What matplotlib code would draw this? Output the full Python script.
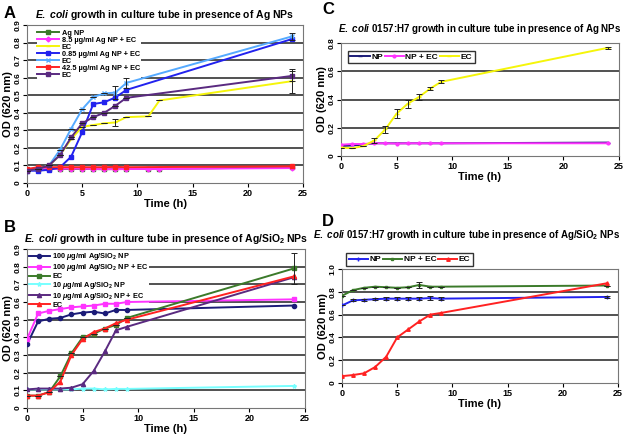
import matplotlib
matplotlib.use("Agg")
import matplotlib.pyplot as plt

plt.rcParams['font.family'] = ['Liberation Sans', 'DejaVu Sans']
plt.rcParams['font.weight'] = 'bold'
plt.rcParams['mathtext.fontset'] = 'custom'
plt.rcParams['mathtext.rm'] = 'Liberation Sans:bold'
plt.rcParams['mathtext.it'] = 'Liberation Sans:italic:bold'
plt.rcParams['mathtext.bf'] = 'Liberation Sans:bold'

# ---- panel A : E. coli + Ag NPs
a_time = [0, 1, 2, 3, 4, 5, 6, 7, 8, 9, 11, 12, 24]
a_time_short = [0, 1, 2, 3, 4, 5, 6, 7, 8, 9, 24]
a_agnp = [0.075, 0.08, 0.08, 0.08, 0.08, 0.08, 0.08, 0.078, 0.08, 0.08, 0.08, 0.08, 0.09]
a_85 = [0.075, 0.08, 0.08, 0.082, 0.082, 0.082, 0.08, 0.08, 0.078, 0.08, 0.08, 0.08, 0.085]
a_ec_y = [0.07, 0.08, 0.10, 0.16, 0.25, 0.32, 0.33, 0.34, 0.345, 0.375, 0.38, 0.47, 0.58]
a_ec_y_err = [0, 0, 0, 0, 0, 0, 0, 0, 0.02, 0, 0, 0, 0.07]
a_085 = [0.07, 0.07, 0.075, 0.09, 0.15, 0.29, 0.45, 0.46, 0.487, 0.53, 0.82]
a_ec_lb = [0.07, 0.08, 0.10, 0.19, 0.31, 0.42, 0.49, 0.51, 0.515, 0.57, 0.835]
a_ec_lb_err = [0, 0, 0, 0, 0, 0, 0, 0, 0.035, 0.03, 0.02]
a_425 = [0.08, 0.09, 0.09, 0.09, 0.09, 0.09, 0.09, 0.09, 0.092, 0.09, 0.095]
a_ec_p = [0.07, 0.08, 0.10, 0.16, 0.26, 0.34, 0.375, 0.40, 0.44, 0.485, 0.61]
a_ec_p_err = [0, 0, 0, 0, 0, 0, 0, 0, 0, 0, 0.03]

# ---- panel B : E. coli + Ag/SiO2 NPs
b_time = [0, 1, 2, 3, 4, 5, 6, 7, 8, 9, 24]
b_100np = [0.36, 0.49, 0.505, 0.51, 0.53, 0.54, 0.545, 0.535, 0.555, 0.555, 0.58]
b_100ec = [0.39, 0.535, 0.55, 0.56, 0.57, 0.575, 0.58, 0.59, 0.59, 0.60, 0.615]
b_ec_g = [0.07, 0.07, 0.09, 0.18, 0.31, 0.40, 0.42, 0.45, 0.47, 0.51, 0.79]
b_ec_g_err = [0, 0, 0, 0, 0, 0, 0, 0, 0, 0, 0.09]
b_10np = [0.105, 0.105, 0.105, 0.105, 0.105, 0.11, 0.11, 0.105, 0.108, 0.108, 0.125]
b_10ec = [0.105, 0.11, 0.11, 0.11, 0.115, 0.135, 0.21, 0.32, 0.44, 0.46, 0.74]
b_ec_r = [0.07, 0.07, 0.09, 0.15, 0.30, 0.39, 0.43, 0.45, 0.48, 0.50, 0.745]

# ---- panel C : E. coli O157:H7 + Ag NPs
c_time = [0, 1, 2, 3, 4, 5, 6, 7, 8, 9, 24]
c_np = [0.07, 0.075, 0.08, 0.09, 0.09, 0.09, 0.09, 0.09, 0.09, 0.09, 0.095]
c_npec = [0.08, 0.085, 0.085, 0.09, 0.09, 0.088, 0.09, 0.09, 0.09, 0.09, 0.09]
c_ec = [0.06, 0.055, 0.07, 0.11, 0.19, 0.30, 0.37, 0.417, 0.476, 0.525, 0.766]
c_ec_err = [0, 0, 0, 0.02, 0.025, 0.03, 0.03, 0.02, 0.01, 0.01, 0.005]

# ---- panel D : E. coli O157:H7 + Ag/SiO2 NPs
d_time = [0, 1, 2, 3, 4, 5, 6, 7, 8, 9, 24]
d_np = [0.68, 0.725, 0.73, 0.735, 0.74, 0.74, 0.74, 0.74, 0.745, 0.74, 0.755]
d_np_err = [0, 0.01, 0.01, 0.01, 0.012, 0.012, 0.012, 0.012, 0.015, 0.012, 0.01]
d_npec = [0.765, 0.815, 0.835, 0.845, 0.84, 0.835, 0.84, 0.86, 0.845, 0.845, 0.855]
d_npec_err = [0, 0, 0, 0, 0, 0, 0, 0.03, 0, 0, 0]
d_ec = [0.06, 0.07, 0.085, 0.14, 0.23, 0.40, 0.47, 0.54, 0.60, 0.615, 0.875]

GREEN = '#3b7a2a'
MAG = '#ff33ff'
YEL = '#f5f50a'
BLUE = '#2222ee'
LBLUE = '#55aaff'
RED = '#ff2222'
PURP = '#5a2a80'
NAVY = '#1c1c78'
CYAN = '#77ffff'

fig = plt.figure(figsize=(6.29, 4.37), dpi=100)
W, H = 629, 437


def make_ax(l, t, r, b):
    return fig.add_axes([l / W, 1 - b / H, (r - l) / W, (b - t) / H])


def style(ax, ymax, ystep, ylabels):
    ax.set_xlim(0, 25)
    ax.set_ylim(0, ymax)
    ax.set_xticks([0, 5, 10, 15, 20, 25])
    ticks = [round(i * ystep, 2) for i in range(len(ylabels))]
    ax.set_yticks(ticks)
    ax.set_yticklabels(ylabels, rotation=90, va='center', fontsize=6)
    ax.tick_params(axis='x', labelsize=6.5, length=3, pad=1)
    ax.tick_params(axis='y', length=3, pad=1)
    for t in ticks[1:]:
        if t < ymax:
            ax.axhline(t, color='#222222', lw=1.1, zorder=0.5)
    for s in ax.spines.values():
        s.set_color('#777777')
        s.set_linewidth(0.8)
    ax.set_xlabel('Time (h)', fontsize=8, fontweight='bold', labelpad=1)
    ax.set_ylabel('OD (620 nm)', fontsize=8, fontweight='bold', labelpad=1)


def line(ax, x, y, c, m, lab, err=None, ms=3):
    ax.plot(x, y, color=c, marker=m, ms=ms, lw=1.4, label=lab, zorder=3)
    if err is not None:
        ax.errorbar(x, y, yerr=err, fmt='none', ecolor='#222222',
                    elinewidth=0.7, capsize=2, capthick=0.7, zorder=4)


leg_kw = dict(loc='upper left', fontsize=5.3, frameon=True, edgecolor='none',
              facecolor='white', framealpha=1, handlelength=3.0,
              labelspacing=-0.02, borderpad=0.1, handletextpad=0.3,
              borderaxespad=0.0)

# A
axA = make_ax(27, 25, 303, 183)
yl9 = ['0', '0.1', '0.2', '0.3', '0.4', '0.5', '0.6', '0.7', '0.8', '0.9']
style(axA, 0.9, 0.1, yl9)
line(axA, a_time, a_agnp, GREEN, 's', 'Ag NP')
line(axA, a_time, a_85, MAG, 'D', '8.5 \u00b5g/ml Ag NP + EC', ms=2.5)
line(axA, a_time, a_ec_y, YEL, '_', 'EC', a_ec_y_err)
line(axA, a_time_short, a_085, BLUE, 's', '0.85 \u00b5g/ml Ag NP + EC')
line(axA, a_time_short, a_ec_lb, LBLUE, 'x', 'EC', a_ec_lb_err)
line(axA, a_time_short, a_425, RED, 's', '42.5 \u00b5g/ml Ag NP + EC')
line(axA, a_time_short, a_ec_p, PURP, 's', 'EC', a_ec_p_err)
legA = axA.legend(bbox_to_anchor=(0.035, 0.975), **leg_kw)
legA.set_zorder(2)
axA.set_title(r'$\it{E.\ coli}$ growth in culture tube in presence of Ag NPs',
              fontsize=7.5, fontweight='bold', pad=5)

# B
axB = make_ax(27, 249, 305, 408)
style(axB, 0.9, 0.1, yl9)
line(axB, b_time, b_100np, NAVY, 'o', r'100 $\mu$g/ml Ag/SiO$_2$ NP')
line(axB, b_time, b_100ec, MAG, 's', r'100 $\mu$g/ml Ag/SiO$_2$ NP + EC')
line(axB, b_time, b_ec_g, GREEN, 's', 'EC', b_ec_g_err)
line(axB, b_time, b_10np, CYAN, '*', r'10 $\mu$g/ml Ag/SiO$_2$ NP')
line(axB, b_time, b_10ec, PURP, '^', r'10 $\mu$g/ml Ag/SiO$_2$ NP + EC')
line(axB, b_time, b_ec_r, RED, '^', 'EC')
legB = axB.legend(bbox_to_anchor=(0.0, 0.99), **leg_kw)
legB.set_zorder(2)
axB.set_title(r'$\it{E.\ coli}$ growth in culture tube in presence of Ag/SiO$_2$ NPs',
              fontsize=7.5, fontweight='bold', pad=5)

# C
axC = make_ax(341, 43, 619, 156)
style(axC, 0.8, 0.2, ['0', '0.2', '0.4', '0.6', '0.8'])
line(axC, c_time, c_np, NAVY, '_', 'NP')
line(axC, c_time, c_npec, MAG, 'o', 'NP + EC', ms=2)
line(axC, c_time, c_ec, YEL, '_', 'EC', c_ec_err)
axC.legend(loc='upper left', ncol=3, fontsize=6, frameon=True, edgecolor='black',
           fancybox=False, handlelength=2.3, columnspacing=0.2, handletextpad=0.2,
           borderpad=0.3, bbox_to_anchor=(0.01, 0.97))
axC.set_title(r'$\it{E.\ coli}$ 0157:H7 growth in culture tube in presence of Ag NPs',
              fontsize=7, fontweight='bold', pad=8)

# D
axD = make_ax(342, 269, 618, 383)
style(axD, 1.0, 0.2, ['0', '0.2', '0.4', '0.6', '0.8', '1.0'])
line(axD, d_time, d_np, BLUE, '+', 'NP', d_np_err)
line(axD, d_time, d_npec, GREEN, 's', 'NP + EC', d_npec_err, ms=2)
line(axD, d_time, d_ec, RED, '^', 'EC', ms=2.5)
axD.legend(loc='lower left', ncol=3, fontsize=6, frameon=True, edgecolor='black',
           fancybox=False, handlelength=2.3, columnspacing=0.2, handletextpad=0.2,
           borderpad=0.3, bbox_to_anchor=(0.0, 0.99))
axD.set_title(r'$\it{E.\ coli}$ 0157:H7 growth in culture tube in presence of Ag/SiO$_2$ NPs',
              fontsize=7, fontweight='bold', pad=22, x=0.45)

for lab, x, y in [('A', 4, 14), ('B', 4, 228), ('C', 322, 10), ('D', 322, 222)]:
    fig.text(x / W, 1 - y / H, lab, fontsize=12, fontweight='bold', va='center')

fig.savefig('out.png', dpi=100)
